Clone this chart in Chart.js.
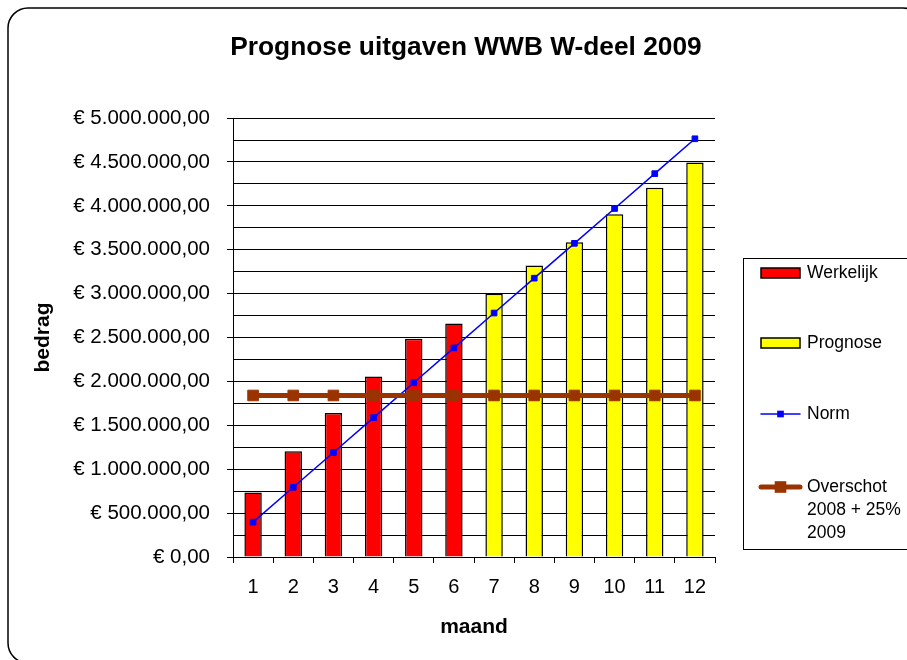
<!DOCTYPE html>
<html>
<head>
<meta charset="utf-8">
<script src="https://cdn.jsdelivr.net/npm/chart.js@4"></script>
<style>
  html, body { margin: 0; padding: 0; background: #fff; }
</style>
</head>
<body>
<canvas id="myChart" width="907" height="660"></canvas>
<script>
var maanden = ['1', '2', '3', '4', '5', '6', '7', '8', '9', '10', '11', '12'];
var werkelijk = [735000, 1205000, 1640000, 2055000, 2485000, 2660000, null, null, null, null, null, null];
var prognose = [null, null, null, null, null, null, 3000000, 3320000, 3585000, 3905000, 4205000, 4495000];
var norm = [397000, 794000, 1191000, 1588000, 1985000, 2382000, 2779000, 3176000, 3573000, 3970000, 4367000, 4764000];
var overschot = [1840000, 1840000, 1840000, 1840000, 1840000, 1840000, 1840000, 1840000, 1840000, 1840000, 1840000, 1840000];

var fontFam = "'Liberation Sans', Arial, sans-serif";

function euro(v) {
  var parts = Number(v).toFixed(2).split('.');
  var heel = parts[0].replace(/\B(?=(\d{3})+(?!\d))/g, '.');
  return '€ ' + heel + ',' + parts[1];
}

// white background + rounded outer frame
var frame = {
  id: 'frame',
  beforeDraw: function(chart) {
    var c = chart.ctx;
    c.save();
    c.fillStyle = '#fff';
    c.fillRect(0, 0, chart.width, chart.height);
    c.beginPath();
    c.roundRect(8, 8, 915, 655, 20);
    c.lineWidth = 1.5;
    c.strokeStyle = '#000';
    c.stroke();
    c.restore();
  },
  afterLayout: function(chart) {
    // title sits a bit left of the plot centre
    chart.titleBlock.left -= 8;
    chart.titleBlock.right -= 8;
  }
};

// boxed legend on the right, like the Excel one
var legendBox = {
  id: 'legendBox',
  afterDraw: function(chart) {
    var c = chart.ctx;
    var ds = chart.data.datasets;
    c.save();
    c.lineWidth = 1;
    c.strokeStyle = '#000';
    c.strokeRect(743.5, 258.5, 180, 291);
    c.font = '17.5px ' + fontFam;
    c.fillStyle = '#000';
    c.textBaseline = 'middle';
    c.textAlign = 'left';
    var rows = [273, 343, 414, 487];
    ds.forEach(function(d, i) {
      var y = rows[i];
      if (d.type === 'line') {
        c.beginPath();
        c.moveTo(761, y);
        c.lineTo(800, y);
        c.lineCap = 'round';
        c.lineWidth = d.borderWidth;
        c.strokeStyle = d.borderColor;
        c.stroke();
        var s = d.pointRadius * Math.SQRT2 + 1;
        c.fillStyle = d.borderColor;
        c.fillRect(780.5 - s / 2, y - s / 2, s, s);
      } else {
        c.fillStyle = d.backgroundColor;
        c.fillRect(761, y - 5, 39, 10);
        c.lineWidth = 1.5;
        c.strokeStyle = '#000';
        c.strokeRect(761, y - 5, 39, 10);
      }
      c.fillStyle = '#000';
      var lines = d.label.split('\n');
      lines.forEach(function(t, k) {
        c.fillText(t, 807, y + k * 23.3);
      });
    });
    c.restore();
  }
};

var ctx = document.getElementById('myChart');
var myChart = new Chart(ctx, {
  data: {
    labels: maanden,
    datasets: [{
      type: 'bar',
      label: 'Werkelijk',
      data: werkelijk,
      backgroundColor: '#FF0000',
      borderColor: '#000',
      borderWidth: 1.5,
      borderSkipped: 'bottom',
      grouped: false,
      order: 3
    }, {
      type: 'bar',
      label: 'Prognose',
      data: prognose,
      backgroundColor: '#FFFF00',
      borderColor: '#000',
      borderWidth: 1.5,
      borderSkipped: 'bottom',
      grouped: false,
      order: 2
    }, {
      type: 'line',
      label: 'Norm',
      data: norm,
      borderColor: '#0000FF',
      backgroundColor: '#0000FF',
      borderWidth: 1.5,
      pointStyle: 'rect',
      pointRadius: 4,
      pointBorderWidth: 1,
      order: 1
    }, {
      type: 'line',
      label: 'Overschot\n2008 + 25%\n2009',
      data: overschot,
      borderColor: '#993300',
      backgroundColor: '#993300',
      borderWidth: 5,
      pointStyle: 'rect',
      pointRadius: 7.5,
      pointBorderWidth: 1,
      order: 0
    }]
  },
  options: {
    responsive: false,
    animation: false,
    layout: { padding: { left: 0, right: 192, top: 0, bottom: 0 } },
    datasets: {
      bar: { barPercentage: 0.433, categoryPercentage: 1 }
    },
    plugins: {
      legend: { display: false },
      tooltip: { enabled: false },
      title: {
        display: true,
        fullSize: false,
        text: 'Prognose uitgaven WWB W-deel 2009',
        color: '#000',
        font: { family: fontFam, size: 26.3, weight: 'bold', lineHeight: 1.2 },
        padding: { top: 31.5, bottom: 55 }
      }
    },
    scales: {
      x: {
        afterFit: function(s) { s.height = 103; },
        grid: {
          offset: true,
          drawOnChartArea: true,
          color: function(c) { return c.index === maanden.length ? '#000' : 'rgba(0,0,0,0)'; },
          tickColor: '#000',
          tickLength: 6,
          lineWidth: 1
        },
        border: { color: '#000', width: 1 },
        ticks: {
          color: '#000',
          font: { family: fontFam, size: 20 },
          padding: 12,
          maxRotation: 0
        },
        title: {
          display: true,
          text: 'maand',
          color: '#000',
          font: { family: fontFam, size: 21, weight: 'bold', lineHeight: 1.2 },
          padding: { top: 0, bottom: 20.4 }
        }
      },
      y: {
        min: 0,
        max: 5000000,
        afterFit: function(s) { s.width = 233; },
        grid: {
          color: '#000',
          lineWidth: 1,
          tickLength: 6,
          tickColor: function(c) { return c.index % 2 === 0 ? '#000' : 'rgba(0,0,0,0)'; }
        },
        border: { color: '#000', width: 1 },
        ticks: {
          stepSize: 250000,
          autoSkip: false,
          color: '#000',
          font: { family: fontFam, size: 20.5 },
          padding: 17,
          callback: function(v) { return v % 500000 === 0 ? euro(v) : ''; }
        },
        title: {
          display: true,
          text: 'bedrag',
          color: '#000',
          font: { family: fontFam, size: 21, weight: 'bold', lineHeight: 1.2 },
          padding: { top: 30.4, bottom: 0 }
        }
      }
    }
  },
  plugins: [frame, legendBox]
});
</script>
</body>
</html>
